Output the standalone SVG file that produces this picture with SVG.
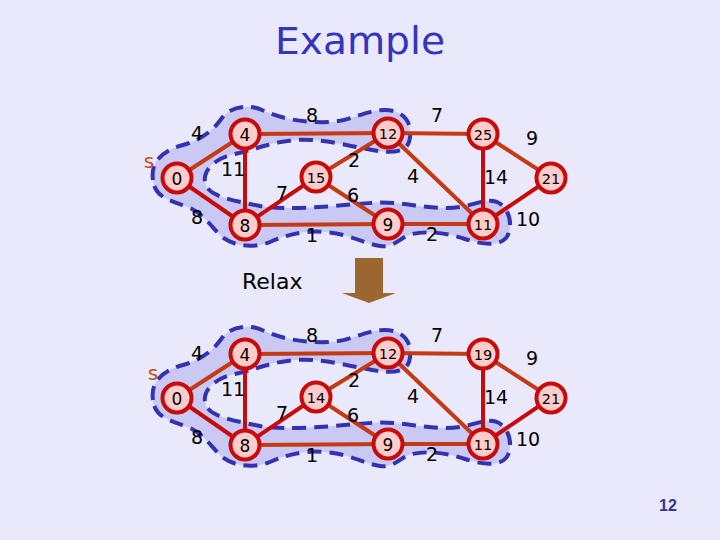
<svg xmlns="http://www.w3.org/2000/svg" xmlns:xlink="http://www.w3.org/1999/xlink" width="720" height="540" viewBox="0 0 720 540">
<style>
.bg{fill:#e9e9fb}
.blob{fill:#c9c9f3;stroke:#3333b0;stroke-width:4;stroke-dasharray:14 8;stroke-linejoin:round}
.er{stroke:#c80a0a;stroke-width:4;fill:none}
.eo{stroke:#c43a14;stroke-width:4;fill:none}
.node circle{fill:#ffcccc;stroke:#c80a0a;stroke-width:4}
.node text{font-family:"DejaVu Sans",sans-serif;font-size:17px;fill:#000;text-anchor:middle;dominant-baseline:central}
.node text.d{font-size:14.5px}
.lbl{font-family:"DejaVu Sans",sans-serif;font-size:19px;fill:#000;text-anchor:middle;dominant-baseline:central}
.s{font-family:"DejaVu Sans",sans-serif;font-size:20px;fill:#c0501e;text-anchor:middle;dominant-baseline:central}
</style>
<defs>
<path id="blob" d="M153,180 C150,160 165,150 183,145 C200,140 212,132 222,118 C230,106 250,104 262,110 C280,118 300,123 330,122 C352,121 365,110 385,110 C405,110 414,125 409,142 C405,153 390,153 372,150 C350,146 320,138 295,140 C270,142 255,150 235,154 C215,158 203,170 205,182 C207,196 230,200 260,206 C290,211 330,206 370,203 C400,200 430,211 460,207 C475,205 485,198 497,202 C510,207 514,228 506,238 C498,247 480,244 465,239 C450,234 430,230 412,234 C400,237 395,248 380,246 C365,244 350,234 325,232 C300,230 285,236 270,242 C255,248 235,247 222,237 C212,228 205,215 190,208 C170,200 155,198 153,180 Z"/>
</defs>
<rect class="bg" x="0" y="0" width="720" height="540"/>
<text x="360" y="54" font-family="DejaVu Sans, sans-serif" font-size="37" fill="#3434c0" text-anchor="middle" textLength="170" lengthAdjust="spacingAndGlyphs">Example</text>

<g id="region-top"><use xlink:href="#blob" class="blob"/></g>
<g id="region-bottom"><use xlink:href="#blob" class="blob" transform="translate(0,220)"/></g>

<g id="connectors">
<line class="eo" x1="177" y1="178" x2="245" y2="134"/>
<line class="er" x1="177" y1="178" x2="245" y2="225"/>
<line class="er" x1="245" y1="134" x2="245" y2="225"/>
<line class="eo" x1="245" y1="134" x2="388" y2="133"/>
<line class="er" x1="245" y1="225" x2="316" y2="177"/>
<line class="eo" x1="245" y1="225" x2="388" y2="224"/>
<line class="eo" x1="316" y1="177" x2="388" y2="133"/>
<line class="eo" x1="316" y1="177" x2="388" y2="224"/>
<line class="eo" x1="388" y1="133" x2="483" y2="134"/>
<line class="eo" x1="388" y1="133" x2="483" y2="224"/>
<line class="eo" x1="388" y1="224" x2="483" y2="224"/>
<line class="er" x1="483" y1="134" x2="483" y2="224"/>
<line class="eo" x1="483" y1="134" x2="551" y2="178"/>
<line class="er" x1="483" y1="224" x2="551" y2="178"/>
<line class="eo" x1="177" y1="398" x2="245" y2="354"/>
<line class="er" x1="177" y1="398" x2="245" y2="445"/>
<line class="er" x1="245" y1="354" x2="245" y2="445"/>
<line class="eo" x1="245" y1="354" x2="388" y2="353"/>
<line class="er" x1="245" y1="445" x2="316" y2="397"/>
<line class="eo" x1="245" y1="445" x2="388" y2="444"/>
<line class="eo" x1="316" y1="397" x2="388" y2="353"/>
<line class="eo" x1="316" y1="397" x2="388" y2="444"/>
<line class="eo" x1="388" y1="353" x2="483" y2="354"/>
<line class="eo" x1="388" y1="353" x2="483" y2="444"/>
<line class="eo" x1="388" y1="444" x2="483" y2="444"/>
<line class="er" x1="483" y1="354" x2="483" y2="444"/>
<line class="eo" x1="483" y1="354" x2="551" y2="398"/>
<line class="er" x1="483" y1="444" x2="551" y2="398"/>
</g>

<g id="edge-labels">
<text class="s" x="149" y="161">s</text>
<text class="lbl" x="197" y="133">4</text>
<text class="lbl" x="312" y="115">8</text>
<text class="lbl" x="437" y="115">7</text>
<text class="lbl" x="233" y="169">11</text>
<text class="lbl" x="354" y="160">2</text>
<text class="lbl" x="413" y="176">4</text>
<text class="lbl" x="282" y="193">7</text>
<text class="lbl" x="353" y="195">6</text>
<text class="lbl" x="197" y="217">8</text>
<text class="lbl" x="312" y="235">1</text>
<text class="lbl" x="432" y="234">2</text>
<text class="lbl" x="532" y="138">9</text>
<text class="lbl" x="496" y="177">14</text>
<text class="lbl" x="528" y="219">10</text>

<text class="s" x="153" y="373">s</text>
<text class="lbl" x="197" y="353">4</text>
<text class="lbl" x="312" y="335">8</text>
<text class="lbl" x="437" y="335">7</text>
<text class="lbl" x="233" y="389">11</text>
<text class="lbl" x="354" y="380">2</text>
<text class="lbl" x="413" y="396">4</text>
<text class="lbl" x="282" y="413">7</text>
<text class="lbl" x="353" y="415">6</text>
<text class="lbl" x="197" y="437">8</text>
<text class="lbl" x="312" y="455">1</text>
<text class="lbl" x="432" y="454">2</text>
<text class="lbl" x="532" y="358">9</text>
<text class="lbl" x="496" y="397">14</text>
<text class="lbl" x="528" y="439">10</text>
</g>

<g id="n0-top" class="node"><circle cx="177" cy="178" r="14.5"/><text x="177" y="179">0</text></g>
<g id="n4-top" class="node"><circle cx="245" cy="134" r="14.5"/><text x="245" y="135">4</text></g>
<g id="n8-top" class="node"><circle cx="245" cy="225" r="14.5"/><text x="245" y="226">8</text></g>
<g id="n15-top" class="node"><circle cx="316" cy="177" r="14.5"/><text class="d" x="316" y="178">15</text></g>
<g id="n12-top" class="node"><circle cx="388" cy="133" r="14.5"/><text class="d" x="388" y="134">12</text></g>
<g id="n9-top" class="node"><circle cx="388" cy="224" r="14.5"/><text x="388" y="225">9</text></g>
<g id="n25-top" class="node"><circle cx="483" cy="134" r="14.5"/><text class="d" x="483" y="135">25</text></g>
<g id="n21-top" class="node"><circle cx="551" cy="178" r="14.5"/><text class="d" x="551" y="179">21</text></g>
<g id="n11-top" class="node"><circle cx="483" cy="224" r="14.5"/><text class="d" x="483" y="225">11</text></g>

<g id="relax">
<text x="242" y="289" font-family="DejaVu Sans, sans-serif" font-size="22" fill="#000">Relax</text>
<polygon points="355,258 383,258 383,293 396,293 369,303 342,293 355,293" fill="#9c6630"/>
</g>

<g id="n0-bot" class="node"><circle cx="177" cy="398" r="14.5"/><text x="177" y="399">0</text></g>
<g id="n4-bot" class="node"><circle cx="245" cy="354" r="14.5"/><text x="245" y="355">4</text></g>
<g id="n8-bot" class="node"><circle cx="245" cy="445" r="14.5"/><text x="245" y="446">8</text></g>
<g id="n14-bot" class="node"><circle cx="316" cy="397" r="14.5"/><text class="d" x="316" y="398">14</text></g>
<g id="n12-bot" class="node"><circle cx="388" cy="353" r="14.5"/><text class="d" x="388" y="354">12</text></g>
<g id="n9-bot" class="node"><circle cx="388" cy="444" r="14.5"/><text x="388" y="445">9</text></g>
<g id="n19-bot" class="node"><circle cx="483" cy="354" r="14.5"/><text class="d" x="483" y="355">19</text></g>
<g id="n21-bot" class="node"><circle cx="551" cy="398" r="14.5"/><text class="d" x="551" y="399">21</text></g>
<g id="n11-bot" class="node"><circle cx="483" cy="444" r="14.5"/><text class="d" x="483" y="445">11</text></g>

<text x="668" y="511" font-family="Liberation Sans, sans-serif" font-size="16" font-weight="bold" fill="#333399" text-anchor="middle">12</text>
</svg>
